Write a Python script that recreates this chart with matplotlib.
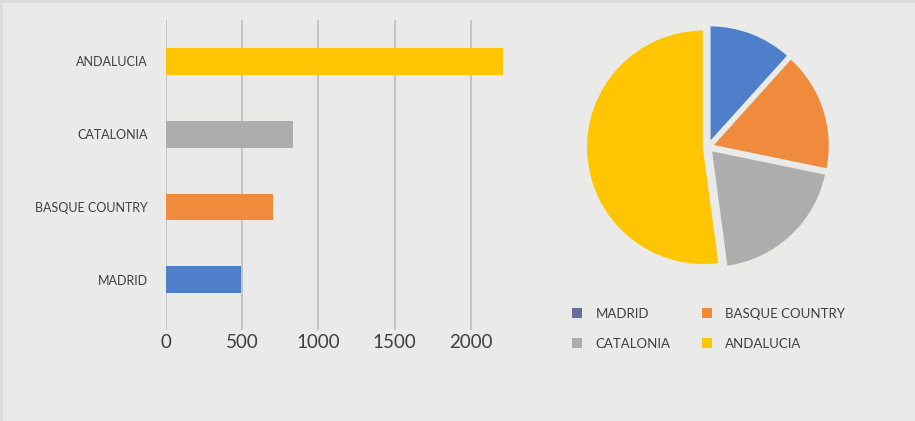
import matplotlib.pyplot as plt
from matplotlib.patches import Rectangle, Patch

# regions and counts
regions = ['MADRID', 'BASQUE COUNTRY', 'CATALONIA', 'ANDALUCIA']
values = [495, 702, 833, 2210]
colors = ['#4f7fcb', '#f08b3d', '#adadad', '#ffc502']
legend_colors = ['#6a6e94', '#f08b3d', '#adadad', '#ffc502']
ticks = [0, 500, 1000, 1500, 2000]

bg = '#eaeae8'
text_col = '#3f3f3f'
plt.rcParams['font.family'] = ['Lato', 'DejaVu Sans']

fig = plt.figure(figsize=(9.15, 4.21), dpi=100, facecolor=bg)
# thin darker strip along top and left edge
fig.patches.append(Rectangle((0, 0), 1, 1, transform=fig.transFigure,
                             facecolor='#dcdcda', edgecolor='none', zorder=-2))
fig.patches.append(Rectangle((3 / 915, 0), 1, 1 - 3 / 421, transform=fig.transFigure,
                             facecolor=bg, edgecolor='none', zorder=-1))

# horizontal bars
ax = fig.add_axes([166 / 915, 1 - 330 / 421, (503 - 166) / 915, 310 / 421])
ax.set_facecolor('none')
ypos = range(len(regions))
ax.barh(ypos, values, height=0.37, color=colors, zorder=3)
ax.set_xlim(0, max(values))
ax.set_ylim(-0.69, 3.57)
ax.set_xticks(ticks)
ax.set_xticklabels([str(t) for t in ticks], fontsize=13.5, color=text_col)
ax.set_yticks(list(ypos))
ax.set_yticklabels(regions, fontsize=9, color=text_col)
ax.tick_params(axis='both', length=0)
ax.tick_params(axis='y', pad=13)
ax.tick_params(axis='x', pad=3)
ax.grid(axis='x', color='#bdbdbd', linewidth=1.2, zorder=0)
for s in ax.spines.values():
    s.set_visible(False)

# pie
pax = fig.add_axes([(708 - 125) / 915, 1 - (147 + 125) / 421, 250 / 915, 250 / 421])
pax.set_facecolor('none')
pax.pie(values, colors=colors, startangle=90, counterclock=False,
        explode=[0.035] * 4, radius=0.98,
        wedgeprops=dict(edgecolor=bg, linewidth=1.5))
pax.set_aspect('equal')
pax.set_xlim(-1.04, 1.04)
pax.set_ylim(-1.04, 1.04)
pax.axis('off')

# legend filled column by column: rows read MADRID/BASQUE, CATALONIA/ANDALUCIA
order = [0, 2, 1, 3]
handles = [Patch(facecolor=legend_colors[i], edgecolor='none') for i in order]
labels = [regions[i] for i in order]
fig.legend(handles, labels, loc='upper left', bbox_to_anchor=(560 / 915, 1 - 296 / 421),
           ncol=2, frameon=False, fontsize=9.5, labelcolor=text_col,
           handlelength=0.8, handleheight=0.8, handletextpad=1.0,
           columnspacing=2.35, labelspacing=1.35)

fig.savefig('out.png', dpi=100, facecolor=bg)
